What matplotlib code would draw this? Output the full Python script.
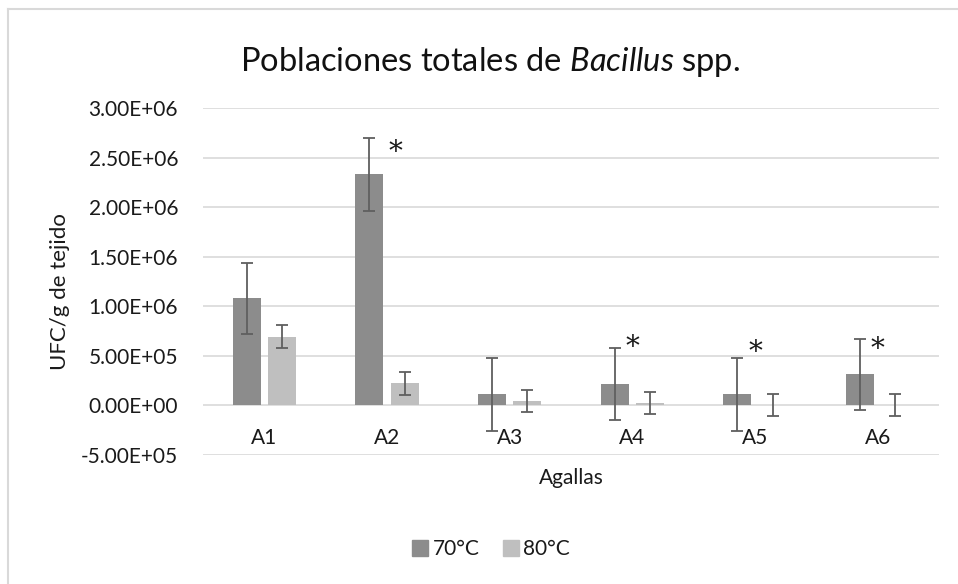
import matplotlib
matplotlib.use("Agg")
import matplotlib.pyplot as plt
import numpy as np
from matplotlib.lines import Line2D

categories = ["A1", "A2", "A3", "A4", "A5", "A6"]
vals_70 = [1.08e6, 2.33e6, 1.12e5, 2.15e5, 1.12e5, 3.15e5]
err_70 = [3.6e5, 3.65e5, 3.65e5, 3.62e5, 3.65e5, 3.6e5]
vals_80 = [6.95e5, 2.25e5, 4.5e4, 2.5e4, 8e3, 6e3]
err_80 = [1.15e5, 1.15e5, 1.15e5, 1.1e5, 1.1e5, 1.1e5]
series_labels = ["70°C", "80°C"]
star_cats = ["A2", "A4", "A5", "A6"]
star_y = [2.55e6, 5.8e5, 5.3e5, 5.6e5]
yticks = [-5e5, 0, 5e5, 1e6, 1.5e6, 2e6, 2.5e6, 3e6]

FONT = "Lato"
plt.rcParams["font.family"] = FONT
plt.rcParams["mathtext.fontset"] = "custom"
plt.rcParams["mathtext.rm"] = "Lato"
plt.rcParams["mathtext.it"] = "Lato:italic"

W, H = 958, 584
fig = plt.figure(figsize=(W / 100, H / 100), dpi=100)
ax = fig.add_axes([203 / W, 1 - 455 / H, (939 - 203) / W, (455 - 108) / H])

x = np.arange(len(categories))
bw = 0.228
off = 0.143
c70, c80 = "#8c8c8c", "#bfbfbf"
ecol = "#5f5f5f"
tcol = "#1a1a1a"
FS = 15

ax.bar(x - off, vals_70, bw, color=c70, zorder=2, label=series_labels[0])
ax.bar(x + off, vals_80, bw, color=c80, zorder=2, label=series_labels[1])
ekw = dict(fmt="none", ecolor=ecol, elinewidth=1.3, capsize=4.5, capthick=1.3, zorder=3)
ax.errorbar(x - off, vals_70, yerr=err_70, **ekw)
ax.errorbar(x + off, vals_80, yerr=err_80, **ekw)

for c, yv in zip(star_cats, star_y):
    i = categories.index(c)
    dx = 0.07 if c == "A2" else 0.0
    ax.text(i + dx, yv, "*", ha="center", va="center", fontsize=20,
            family="DejaVu Serif", color="#1a1a1a")

ax.set_xlim(-0.5, len(categories) - 0.5)
ax.set_ylim(-5e5, 3e6)
ax.set_yticks(yticks)
ax.set_yticklabels([f"{v:.2E}" for v in yticks])
ax.yaxis.grid(True, color="#d9d9d9", linewidth=1.2, zorder=0)
ax.set_axisbelow(True)
for s in ax.spines.values():
    s.set_visible(False)
ax.tick_params(axis="both", length=0, labelsize=FS, colors=tcol)
ax.tick_params(axis="y", pad=18)
ax.set_xticks(x)
ax.set_xticklabels(categories)
ax.tick_params(axis="x", labelbottom=False)
for i, c in enumerate(categories):
    ax.text(i, -3.25e5, c, ha="center", va="center", fontsize=FS, color=tcol)

ax.yaxis.set_label_coords(60 / W, 0.5, transform=fig.transFigure)
ax.set_ylabel("UFC/g de tejido", fontsize=FS + 1, color=tcol, va="center")
fig.text(571 / W, 1 - 478 / H, "Agallas", ha="center", va="center", fontsize=FS, color=tcol)

fig.text(490 / W, 1 - 62 / H, r"Poblaciones totales de $\mathit{Bacillus}$ spp.",
         ha="center", va="center", fontsize=23.5, color="#111111")

handles = [Line2D([], [], marker="s", linestyle="none", markersize=11, color=c70),
           Line2D([], [], marker="s", linestyle="none", markersize=11, color=c80)]
fig.legend(handles, series_labels, loc="center", bbox_to_anchor=(490 / W, 1 - 549 / H),
           ncol=2, frameon=False, fontsize=FS, handletextpad=0.1, columnspacing=1.0,
           handlelength=1.0, labelcolor=tcol)

fig.add_artist(Line2D([8 / W, 8 / W], [0, 1 - 9 / H], transform=fig.transFigure, color="#d9d9d9", linewidth=1.5))
fig.add_artist(Line2D([8 / W, 1], [1 - 9 / H, 1 - 9 / H], transform=fig.transFigure, color="#d9d9d9", linewidth=1.5))

fig.savefig("out.png", dpi=100, facecolor="white")
